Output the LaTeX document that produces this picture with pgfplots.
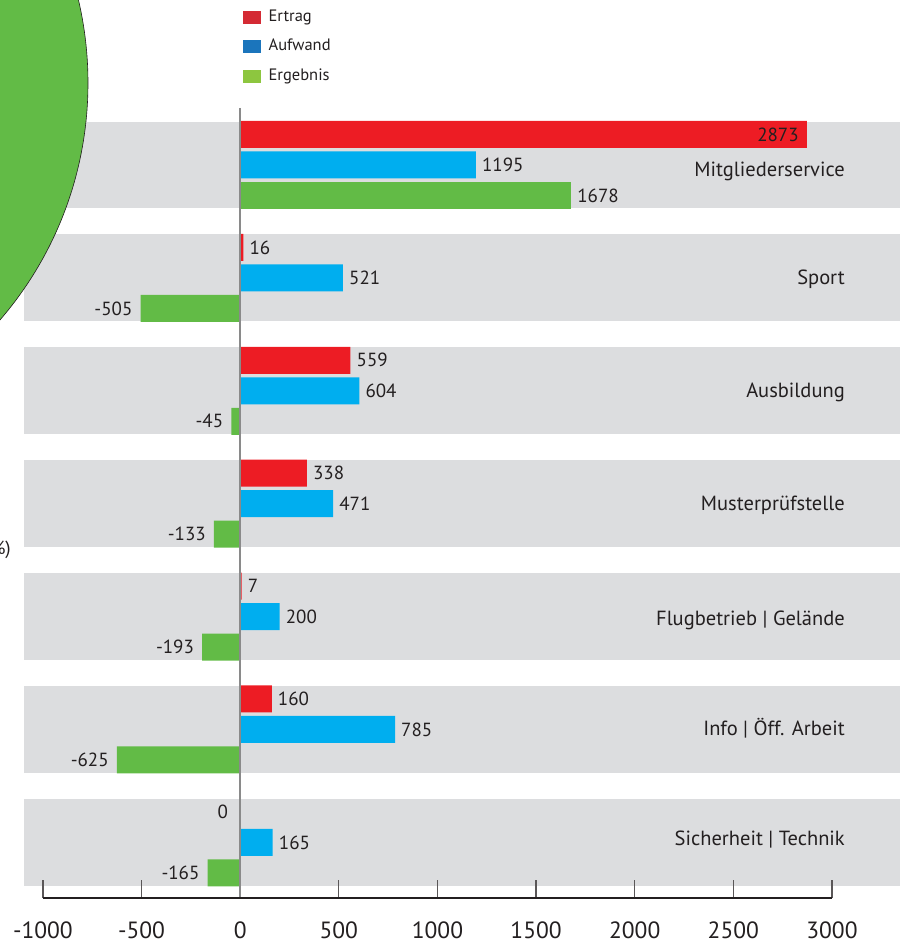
\documentclass[border=0pt]{standalone}
\usepackage{fontspec}
\setmainfont{PT Sans}
\usepackage{pgfplots}
\usepackage{pgfplotstable}
\pgfplotsset{compat=1.18}
\definecolor{bandgray}{HTML}{DCDDDF}
\definecolor{barred}{HTML}{ED1C24}
\definecolor{barblue}{HTML}{00AEEF}
\definecolor{bargreen}{HTML}{62BB46}
\definecolor{legred}{HTML}{D42A34}
\definecolor{legblue}{HTML}{1B75BC}
\definecolor{leggreen}{HTML}{8DC63F}
\definecolor{txt}{HTML}{231F20}
\definecolor{zerogray}{HTML}{8A8A8A}

% y = vertical position of each bar (category centre 165 + 112.9*i,
% Ertrag 30.5 above, Ergebnis 30.5 below), val = value
% Ertrag (labels for 2873 and 0 are placed separately)
\pgfplotstableread{
y val lab
134.5 2873 {}
247.4 16 16
360.3 559 559
473.2 338 338
586.1 7 7
699.0 160 160
811.9 0 {}
}\ertrag
\pgfplotstableread{
y val lab
165.0 1195 1195
277.9 521 521
390.8 604 604
503.7 471 471
616.6 200 200
729.5 785 785
842.4 165 165
}\aufwand
\pgfplotstableread{
y val lab
195.5 1678 1678
}\ergebnispos
\pgfplotstableread{
y val lab
308.4 -505 -505
421.3 -45 -45
534.2 -133 -133
647.1 -193 -193
760.0 -625 -625
872.9 -165 -165
}\ergebnisneg

\newcommand{\lblfont}{\fontsize{19}{19}\selectfont}
\newcommand{\catfont}{\fontsize{20.5}{21}\selectfont}

\begin{document}
\begin{tikzpicture}
\begin{axis}[
  at={(24pt,47pt)}, anchor=south west,
  scale only axis, width=876pt, height=790pt,
  xmin=-1096, xmax=3345, ymin=108, ymax=898, y dir=reverse,
  axis line style={draw=none},
  xtick={-1000,-500,0,500,1000,1500,2000,2500,3000},
  xticklabels={-1000,-500,0,500,1000,1500,2000,2500,3000},
  xtick pos=bottom, tick align=inside, major tick length=18pt,
  tick style={line width=1.2pt, color=txt!75},
  ytick=\empty,
  xticklabel style={font=\fontsize{23.5}{24}\selectfont, text=txt, anchor=base, yshift=-41pt},
  clip=false,
  set layers,
  legend style={at={(0.2466,1.1278)}, anchor=north west, draw=none, fill=none,
    font=\fontsize{16.5}{17}\selectfont, text=txt, row sep=14.5pt,
    nodes={inner xsep=0pt, inner ysep=0pt, text height=12pt, text depth=3pt},
    /tikz/every odd column/.append style={column sep=8pt}},
  legend cell align=left,
  every node near coord/.append style={font=\lblfont, text=txt, inner sep=0pt},
  pos lbl/.style={nodes near coords, point meta=explicit symbolic,
    every node near coord/.append style={anchor=west, xshift=6pt}},
  neg lbl/.style={nodes near coords, point meta=explicit symbolic,
    every node near coord/.append style={anchor=east, xshift=-8pt}},
]
\begin{pgfonlayer}{axis background}
\fill[bandgray] (axis cs:-1096,122) rectangle (axis cs:3345,208.5);
\fill[bandgray] (axis cs:-1096,234) rectangle (axis cs:3345,321);
\fill[bandgray] (axis cs:-1096,347) rectangle (axis cs:3345,434);
\fill[bandgray] (axis cs:-1096,460) rectangle (axis cs:3345,547);
\fill[bandgray] (axis cs:-1096,573) rectangle (axis cs:3345,660);
\fill[bandgray] (axis cs:-1096,686) rectangle (axis cs:3345,773);
\fill[bandgray] (axis cs:-1096,799) rectangle (axis cs:3345,886);
\end{pgfonlayer}

\addlegendimage{legend image code/.code={\fill[legred] (0pt,-6pt) rectangle (17pt,6pt);}}
\addlegendentry{Ertrag}
\addlegendimage{legend image code/.code={\fill[legblue] (0pt,-6pt) rectangle (17pt,6pt);}}
\addlegendentry{Aufwand}
\addlegendimage{legend image code/.code={\fill[leggreen] (0pt,-6pt) rectangle (17pt,6pt);}}
\addlegendentry{Ergebnis}

\addplot[xbar, fill=barred, draw=none, bar width=27, bar shift=0, forget plot, pos lbl]
  table[x=val, y=y, meta=lab]{\ertrag};
\addplot[xbar, fill=barblue, draw=none, bar width=27, bar shift=0, forget plot, pos lbl]
  table[x=val, y=y, meta=lab]{\aufwand};
\addplot[xbar, fill=bargreen, draw=none, bar width=27, bar shift=0, forget plot, pos lbl]
  table[x=val, y=y, meta=lab]{\ergebnispos};
\addplot[xbar, fill=bargreen, draw=none, bar width=27, bar shift=0, forget plot, neg lbl]
  table[x=val, y=y, meta=lab]{\ergebnisneg};

% special value labels
\node[anchor=east, xshift=-8pt, font=\lblfont, text=txt, inner sep=0pt] at (axis cs:2873,134.5) {2873};
\node[anchor=east, xshift=-12pt, font=\lblfont, text=txt, inner sep=0pt] at (axis cs:0,811.9) {0};

% zero line and bottom axis line
\draw[zerogray, line width=1.5pt] (axis cs:0,108) -- (axis cs:0,898);
\draw[txt, line width=1.5pt] (axis cs:-1000,898) -- (axis cs:3000,898);

% category labels
\begin{scope}[every node/.style={anchor=base east, font=\catfont, text=txt, inner sep=0pt}]
\node at (axis cs:3066,177) {Mitgliederservice};
\node at (axis cs:3066,285) {Sport};
\node at (axis cs:3066,398) {Ausbildung};
\node at (axis cs:3066,511) {Musterprüfstelle};
\node at (axis cs:3066,626) {Flugbetrieb | Gelände};
\node at (axis cs:3066,736) {Info | Öff. Arbeit};
\node at (axis cs:3066,846) {Sicherheit | Technik};
\end{scope}
\end{axis}
\pgfresetboundingbox
\useasboundingbox (0,0) rectangle (900pt,945pt);
% partial pie chart from the neighbouring figure
\begin{scope}
\clip (0,0) rectangle (900pt,945pt);
\fill[bargreen, draw=txt, line width=0.6pt] (-275pt,862pt) circle (363pt);
\node[anchor=base east, font=\lblfont, text=txt, inner sep=0pt] at (11pt,390pt) {\%)};
\end{scope}
\end{tikzpicture}
\end{document}
